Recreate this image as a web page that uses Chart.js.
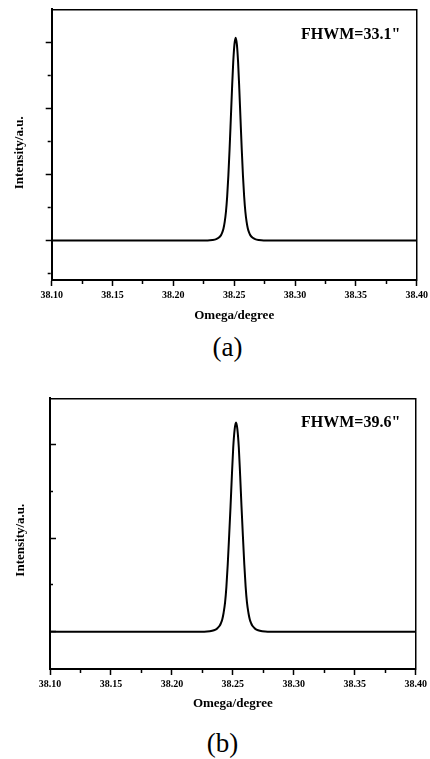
<!DOCTYPE html>
<html><head><meta charset="utf-8">
<script src="https://cdn.jsdelivr.net/npm/chart.js@4"></script>
<style>
body{margin:0;background:#fff;width:430px;height:759px;overflow:hidden;position:relative;font-family:'Liberation Serif','Times New Roman',serif;}
canvas{position:absolute;left:0;}
.note{position:absolute;font-weight:bold;font-size:16px;line-height:16px;white-space:nowrap;color:#000;}
.cap{position:absolute;width:100px;text-align:center;font-size:27px;line-height:27px;color:#000;}
</style></head><body>
<canvas id="ca" width="430" height="330" style="top:0px"></canvas>
<canvas id="cb" width="430" height="340" style="top:380px"></canvas>
<div class="note" style="left:301px;top:26px">FHWM=33.1"</div>
<div class="note" style="left:301px;top:414px">FHWM=39.6"</div>
<div class="cap" style="left:177.5px;top:334.3px">(a)</div>
<div class="cap" style="left:172.5px;top:730.3px">(b)</div>
<script>
// ---- data ----
const xTicks = [38.10, 38.125, 38.15, 38.175, 38.20, 38.225, 38.25, 38.275, 38.30, 38.325, 38.35, 38.375, 38.40];
const xTickLabels = ["38.10", "", "38.15", "", "38.20", "", "38.25", "", "38.30", "", "38.35", "", "38.40"];

// (a) omega scan, FHWM = 33.1"
const aX = [38.10, 38.2282, 38.2322, 38.2352, 38.2372, 38.2392, 38.2402, 38.2412, 38.2422, 38.2432, 38.2442, 38.2452, 38.2462, 38.2472, 38.2482, 38.2492, 38.2502,
            38.2512,
            38.2522, 38.2532, 38.2542, 38.2552, 38.2562, 38.2572, 38.2582, 38.2592, 38.2602, 38.2612, 38.2622, 38.2632, 38.2652, 38.2672, 38.2702, 38.2742, 38.40];
const aY = [0, 0, 0.007, 0.02, 0.04, 0.08, 0.12, 0.18, 0.28, 0.43, 0.66, 0.98, 1.38, 1.83, 2.29, 2.70, 2.97,
            3.07,
            2.97, 2.70, 2.29, 1.83, 1.38, 0.98, 0.66, 0.43, 0.28, 0.18, 0.12, 0.08, 0.04, 0.02, 0.007, 0, 0];
const aYTicks = [-0.5, 0, 0.5, 1, 1.5, 2, 2.5, 3];

// (b) omega scan, FHWM = 39.6"
const bX = [38.10, 38.2266, 38.2311, 38.2345, 38.2368, 38.2390, 38.2402, 38.2413, 38.2424, 38.2436, 38.2447, 38.2458, 38.2469, 38.2481, 38.2492, 38.2503, 38.2515,
            38.2526,
            38.2537, 38.2549, 38.2560, 38.2571, 38.2583, 38.2594, 38.2605, 38.2616, 38.2628, 38.2639, 38.2650, 38.2662, 38.2684, 38.2707, 38.2741, 38.2786, 38.40];
const bY = [0, 0, 0.005, 0.015, 0.03, 0.06, 0.09, 0.13, 0.20, 0.31, 0.48, 0.72, 1.01, 1.34, 1.67, 1.97, 2.17,
            2.24,
            2.17, 1.97, 1.67, 1.34, 1.01, 0.72, 0.48, 0.31, 0.20, 0.13, 0.09, 0.06, 0.03, 0.015, 0.005, 0, 0];
const bYTicks = [0, 0.5, 1, 1.5, 2];

const xTitle = "Omega/degree";
const yTitle = "Intensity/a.u.";

// ---- drawing ----
const FONT = "'Liberation Serif', 'Times New Roman', serif";
function build(id, xs, ys, yTicks, g) {
  const pts = xs.map((x, i) => ({x: x, y: ys[i]}));
  const isMajorY = v => Math.abs(v - Math.round(v)) < 1e-6;
  const yTL = g.yInward ? -6 : 6;
  const yMinorDash = g.yInward ? [0, 3, 4, 100] : [0, 2, 3, 100];
  return new Chart(document.getElementById(id), {
    type: 'line',
    data: { datasets: [{ data: pts, borderColor: '#000', borderWidth: 2, pointRadius: 0,
                         cubicInterpolationMode: 'monotone', fill: false }] },
    options: {
      responsive: false, animation: false,
      layout: { padding: 0 },
      plugins: { legend: { display: false }, tooltip: { enabled: false } },
      scales: {
        x: {
          type: 'linear', position: 'bottom', min: 38.10, max: 38.40,
          afterBuildTicks: s => { s.ticks = xTicks.map(v => ({value: v})); },
          afterFit: s => { s.height = g.xH; s.paddingLeft = 0; s.paddingRight = 0; },
          ticks: { autoSkip: false, maxRotation: 0, minRotation: 0, padding: 3, color: '#000',
                   font: { family: FONT, size: 10, weight: 'bold' },
                   callback: (v, i) => xTickLabels[i] },
          grid: { drawOnChartArea: false, tickLength: 6, tickWidth: 1.5, tickColor: '#000',
                  tickBorderDash: c => (c.index % 2 === 0 ? [] : [3, 100]) },
          border: { color: '#000', width: 2 },
          title: { display: true, text: xTitle, color: '#000',
                   font: { family: FONT, size: 13, weight: 'bold' },
                   padding: { top: 0, bottom: g.xTitlePad } }
        },
        y: {
          type: 'linear', position: 'left', min: g.yMin, max: g.yMax,
          afterBuildTicks: s => { s.ticks = yTicks.map(v => ({value: v})); },
          afterFit: s => { s.width = g.left; s.paddingTop = 0; s.paddingBottom = 0; },
          ticks: { display: false },
          grid: { drawOnChartArea: false, tickLength: yTL, tickWidth: 1.5, tickColor: '#000',
                  tickBorderDash: c => (c.tick && isMajorY(c.tick.value) ? [] : yMinorDash) },
          border: { color: '#000', width: 2 },
          title: { display: true, text: yTitle + g.ySpaces, color: '#000',
                   font: { family: FONT, size: 13, weight: 'bold' },
                   padding: { top: g.yTitlePad, bottom: 0 } }
        },
        x2: {
          type: 'linear', position: 'top',
          afterFit: s => { s.height = g.top; s.paddingLeft = 0; s.paddingRight = 0; },
          ticks: { display: false }, grid: { display: false },
          border: { color: '#000', width: 1.5 }
        },
        y2: {
          type: 'linear', position: 'right',
          afterFit: s => { s.width = 430 - g.right; s.paddingTop = 0; s.paddingBottom = 0; },
          ticks: { display: false }, grid: { display: false },
          border: { color: '#000', width: 1.5 }
        }
      }
    }
  });
}

build('ca', aX, aY, aYTicks, { left: 51.7, right: 416.7, top: 9.3, xH: 50, yMin: -0.6, yMax: 3.5,
                                xTitlePad: 6.2, yTitlePad: 12.2, yInward: false, ySpaces: "     " });
build('cb', bX, bY, bYTicks, { left: 50, right: 415.7, top: 18.3, xH: 51, yMin: -0.4, yMax: 2.5,
                                xTitlePad: 8.2, yTitlePad: 13.2, yInward: true, ySpaces: "    " });
</script>
</body></html>
